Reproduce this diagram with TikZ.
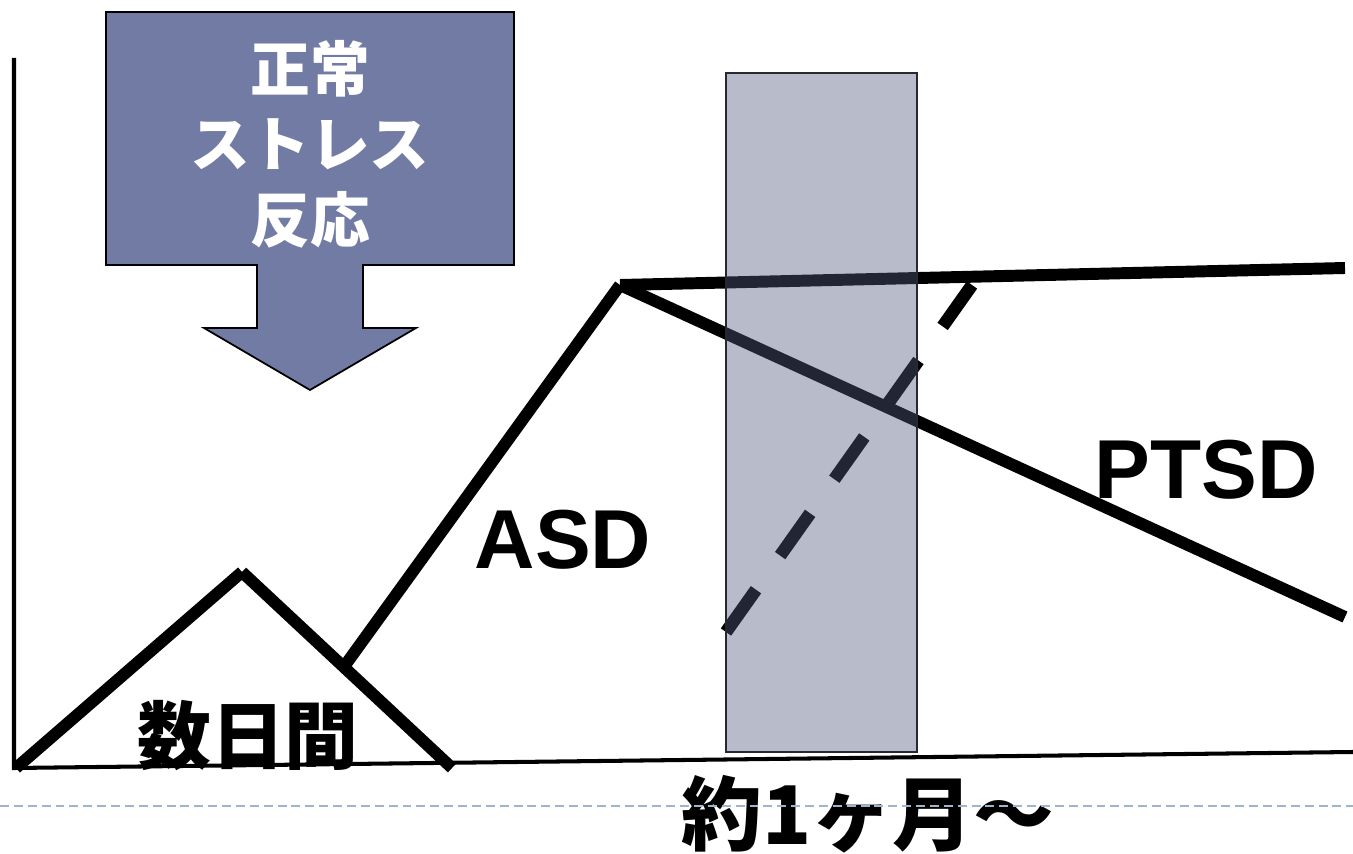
\documentclass[tikz,border=0pt]{standalone}
\usepackage{fontspec}
\setmainfont{Noto Sans CJK JP}
\newfontfamily\latf{Liberation Sans}
\definecolor{arrowfill}{RGB}{113,123,163}
\definecolor{bandfill}{RGB}{83,90,124}
\definecolor{bandedge}{RGB}{40,40,48}
\definecolor{guide}{RGB}{160,180,204}
\tikzset{
  axisline/.style={draw=black, line width=2.3pt},
  curve/.style={draw=black, line width=6.8pt, line cap=butt},
  dashcurve/.style={draw=black, line width=7.2pt, line cap=butt, dash pattern=on 29.5pt off 23.8pt},
  guideline/.style={draw=guide, line width=1.1pt, dash pattern=on 5.1pt off 2.8pt},
  arrowbox/.style={draw=black, line width=1pt, fill=arrowfill},
  band/.style={fill=bandfill, fill opacity=0.41, draw=bandedge, line width=0.9pt},
  boxtext/.style={text=white, align=center, font=\bfseries\fontsize{34}{43}\selectfont, inner sep=0pt},
  biglabel/.style={text=black, font=\latf\bfseries\fontsize{47.6}{50}\selectfont, inner sep=0pt},
  jplabel/.style={text=black, font=\bfseries\fontsize{42}{46}\selectfont, inner sep=0pt},
  jpbig/.style={text=black, font=\bfseries\fontsize{46}{50}\selectfont, inner sep=0pt}
}
\begin{document}
\begin{tikzpicture}[x=0.02cm, y=-0.02cm]
\useasboundingbox (0,0) rectangle (1353,854);
% axes
\coordinate (ytop) at (14,58);
\coordinate (org) at (14,768);
\coordinate (xend) at (1353,752);
\draw[axisline] (ytop) -- (org) -- (xend);
% block arrow
\draw[arrowbox] (106,12) -- (514,12) -- (514,265) -- (363,265) -- (363,328)
  -- (416,328) -- (310,390) -- (204,328) -- (257,328) -- (257,265) -- (106,265) -- cycle;
\node[boxtext] (stress) at (310,144) {正常\\ストレス\\反応};
% curves
\coordinate (p0) at (16,768);
\coordinate (p1) at (242,572);
\coordinate (p2) at (452,768);
\coordinate (a0) at (346,664);
\coordinate (top) at (620,285);
\coordinate (h1) at (1345,268);
\coordinate (d1) at (1345,617);
\coordinate (q0) at (726,632);
\coordinate (q1) at (972,285);
\draw[curve] (p0) -- (p1);
\draw[curve] (p1) -- (p2);
\draw[curve] (a0) -- (top);
\draw[curve] (top) -- (h1);
\draw[curve] (top) -- (d1);
\draw[dashcurve] (q0) -- (q1);
% translucent band
\path[band] (726,73) rectangle (917,752);
% labels
\node[biglabel] (asd) at (563,540) {ASD};
\node[biglabel] (ptsd) at (1206,470) {PTSD};
\node[jplabel] (days) at (248,736) {数日間};
\node[jpbig] (month) at (868,814) {約1ヶ月〜};
% guide
\coordinate (gl) at (0,806);
\coordinate (gr) at (1353,806);
\draw[guideline] (gl) -- (gr);
\end{tikzpicture}
\end{document}
